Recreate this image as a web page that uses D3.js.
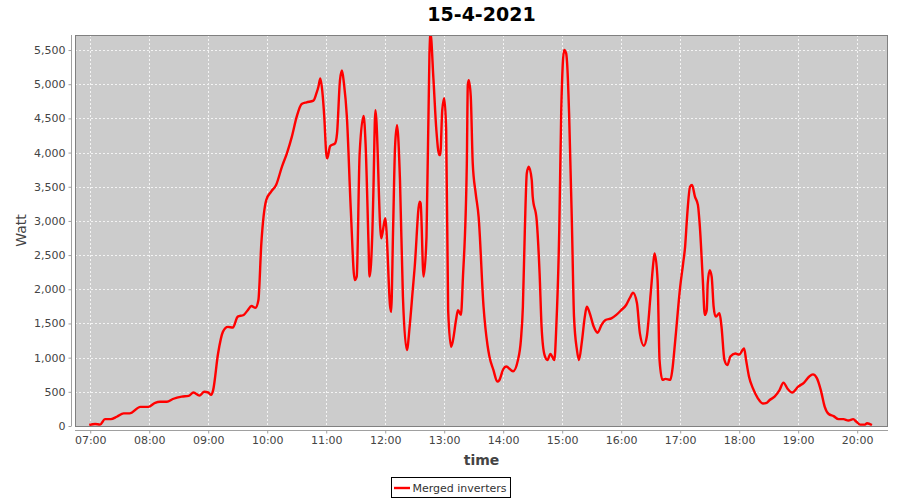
<!DOCTYPE html>
<html>
<head>
<meta charset="utf-8">
<script src="https://cdn.jsdelivr.net/npm/d3@7/dist/d3.min.js"></script>
<style>
  html, body { margin: 0; padding: 0; background: #ffffff; }
  svg { display: block; }
</style>
</head>
<body>
<svg id="chart" width="900" height="500"></svg>
<script>
// ---- data ----
const chartTitle = "15-4-2021";
const seriesName = "Merged inverters";
const times = [
  "06:59","07:05","07:10","07:15","07:21","07:27","07:34","07:40","07:51","07:59",
  "08:06","08:11","08:18","08:24","08:33","08:40","08:45","08:51","08:56","09:00",
  "09:03","09:05","09:10","09:15","09:20","09:25","09:30","09:36","09:40","09:44",
  "09:48","09:51","09:54","09:59","10:04","10:09","10:15","10:20","10:25","10:30",
  "10:35","10:40","10:47","10:50","10:52","10:54","10:56","10:58","11:00","11:01",
  "11:04","11:09","11:11","11:14","11:16","11:18","11:21","11:25","11:29","11:31",
  "11:34","11:38","11:40","11:43","11:44","11:47","11:48","11:50","11:51","11:55",
  "11:56","12:00","12:01","12:05","12:06","12:08","12:10","12:12","12:15","12:18",
  "12:22","12:25","12:28","12:30","12:35","12:36","12:39","12:42","12:45","12:46",
  "12:49","12:52","12:55","12:56","12:58","13:00","13:02","13:04","13:07","13:09",
  "13:12","13:14","13:17","13:19","13:23","13:24","13:25","13:27","13:29","13:32",
  "13:35","13:40","13:44","13:46","13:50","13:54","13:56","14:00","14:03","14:10",
  "14:15","14:18","14:20","14:22","14:24","14:26","14:29","14:30","14:34","14:37",
  "14:39","14:42","14:45","14:48","14:52","14:54","14:57","14:59","15:02","15:04",
  "15:05","15:07","15:10","15:12","15:15","15:17","15:20","15:23","15:25","15:28",
  "15:32","15:36","15:40","15:44","15:50","15:55","16:00","16:05","16:09","16:12",
  "16:16","16:19","16:23","16:26","16:30","16:33","16:34","16:37","16:39","16:42",
  "16:45","16:50","16:52","16:55","17:00","17:03","17:05","17:07","17:10","17:12",
  "17:15","17:18","17:20","17:23","17:25","17:27","17:28","17:30","17:32","17:34",
  "17:36","17:40","17:42","17:45","17:48","17:51","17:56","18:00","18:05","18:07",
  "18:10","18:14","18:19","18:24","18:28","18:31","18:36","18:41","18:45","18:49",
  "18:54","19:00","19:06","19:11","19:15","19:19","19:23","19:27","19:31","19:36",
  "19:41","19:46","19:51","19:56","19:59","20:03","20:08","20:10","20:15"
];
const watts = [
  15,30,20,100,100,135,185,185,280,280,
  340,355,355,395,430,440,490,445,500,490,
  455,525,1060,1380,1450,1440,1600,1625,1690,1755,
  1730,1840,2670,3305,3430,3525,3795,3990,4230,4525,
  4710,4735,4760,4865,4960,5085,4900,4525,3990,3915,
  4095,4135,4280,5060,5200,5015,4525,3160,2135,2185,
  3990,4535,4135,2670,2185,2870,3450,4620,4475,2890,
  2745,3040,2915,1745,1670,2870,4085,4400,3600,1890,
  1110,1480,1990,2330,3280,3260,2185,2770,5450,5750,
  5085,4330,3965,3965,4620,4795,4330,1695,1160,1260,
  1550,1695,1625,2160,3845,4990,5060,4820,3845,3405,
  3060,1745,1185,1015,820,650,670,830,870,800,
  965,1260,1745,2870,3700,3795,3600,3355,3015,2235,
  1455,1040,965,1055,965,1455,2870,4600,5500,5450,
  5305,4575,2870,1600,1110,965,1235,1600,1745,1650,
  1455,1365,1480,1550,1575,1625,1695,1770,1880,1950,
  1800,1355,1175,1305,1940,2430,2525,2135,965,675,
  690,675,820,1260,2040,2380,2625,3060,3500,3525,
  3355,3235,2915,2135,1625,1695,2085,2280,2185,1745,
  1600,1650,1455,965,890,1015,1060,1045,1135,965,
  720,550,405,330,340,380,430,525,635,550,
  490,575,635,720,755,700,525,280,175,145,
  100,100,80,100,65,20,20,40,15
];
const yTickValues = [0,500,1000,1500,2000,2500,3000,3500,4000,4500,5000,5500];
const xTickLabels = ["07:00","08:00","09:00","10:00","11:00","12:00","13:00","14:00","15:00","16:00","17:00","18:00","19:00","20:00"];
const xDomainLabels = ["06:44:30","20:31:20"];
const yMax = 5720;

// ---- helpers ----
const day = "2021-04-15T";
const parseT = d3.timeParse("%Y-%m-%dT%H:%M");
const parseTs = d3.timeParse("%Y-%m-%dT%H:%M:%S");
const data = times.map((t, i) => ({ t: parseT(day + t), v: watts[i] }));

const W = 900, H = 500;
const plot = { left: 75, right: 888, top: 35, bottom: 426 };
const font = "'DejaVu Sans', sans-serif";

const svg = d3.select("#chart");

const x = d3.scaleTime()
  .domain(xDomainLabels.map(s => parseTs(day + s)))
  .range([plot.left, plot.right]);
const y = d3.scaleLinear()
  .domain([0, yMax])
  .range([plot.bottom, plot.top]);

// plot background
svg.append("rect")
  .attr("x", plot.left).attr("y", plot.top)
  .attr("width", plot.right - plot.left).attr("height", plot.bottom - plot.top)
  .attr("fill", "#cccccc");

// grid
const xTicks = xTickLabels.map(s => parseT(day + s));
const grid = svg.append("g").attr("stroke", "#f4f4f4").attr("stroke-width", 1)
  .attr("stroke-dasharray", "2,2");
grid.selectAll("line.v").data(xTicks).join("line")
  .attr("x1", d => Math.round(x(d)) + 0.5).attr("x2", d => Math.round(x(d)) + 0.5)
  .attr("y1", plot.top).attr("y2", plot.bottom);
grid.selectAll("line.h").data(yTickValues.filter(v => v > 0)).join("line")
  .attr("x1", plot.left).attr("x2", plot.right)
  .attr("y1", d => Math.round(y(d)) + 0.5).attr("y2", d => Math.round(y(d)) + 0.5);

// clip
svg.append("clipPath").attr("id", "clip").append("rect")
  .attr("x", plot.left).attr("y", plot.top)
  .attr("width", plot.right - plot.left).attr("height", plot.bottom - plot.top);

// line
const line = d3.line()
  .x(d => x(d.t)).y(d => y(d.v))
  .curve(d3.curveMonotoneX);
svg.append("path")
  .datum(data)
  .attr("clip-path", "url(#clip)")
  .attr("fill", "none")
  .attr("stroke", "#ff0000")
  .attr("stroke-width", 2.4)
  .attr("stroke-linejoin", "round")
  .attr("d", line);

// plot outline
svg.append("rect")
  .attr("x", plot.left + 0.5).attr("y", plot.top + 0.5)
  .attr("width", plot.right - plot.left - 1).attr("height", plot.bottom - plot.top)
  .attr("fill", "none").attr("stroke", "#808080").attr("stroke-width", 1);

// axes
const yAxis = d3.axisLeft(y).tickValues(yTickValues)
  .tickFormat(d3.format(",")).tickSizeInner(3).tickSizeOuter(0).tickPadding(3);
const gy = svg.append("g").attr("transform", `translate(${plot.left - 3.5},0)`).call(yAxis);
gy.select(".domain").attr("stroke", "#a0a0a0").attr("d", `M0,${plot.top}V${plot.bottom}`);
gy.selectAll(".tick line").attr("stroke", "#a0a0a0");
gy.selectAll(".tick text").attr("fill", "#444444").style("font", `11px ${font}`);

const xAxis = d3.axisBottom(x).tickValues(xTicks)
  .tickFormat(d3.timeFormat("%H:%M")).tickSizeInner(3).tickSizeOuter(0).tickPadding(3);
const gx = svg.append("g").attr("transform", `translate(0,${plot.bottom + 4.5})`).call(xAxis);
gx.select(".domain").attr("stroke", "#a0a0a0").attr("d", `M${plot.left},0H${plot.right}`);
gx.selectAll(".tick line").attr("stroke", "#a0a0a0");
gx.selectAll(".tick text").attr("fill", "#444444").style("font", `11px ${font}`);

// title
svg.append("text")
  .attr("x", (plot.left + plot.right) / 2 + 0).attr("y", 21)
  .attr("text-anchor", "middle")
  .style("font", `bold 19px ${font}`).attr("fill", "#000")
  .text(chartTitle);

// axis labels
svg.append("text")
  .attr("x", (plot.left + plot.right) / 2).attr("y", 465)
  .attr("text-anchor", "middle")
  .style("font", `bold 14px ${font}`).attr("fill", "#444444")
  .text("time");
svg.append("text")
  .attr("transform", `translate(26,${(plot.top + plot.bottom) / 2}) rotate(-90)`)
  .attr("text-anchor", "middle")
  .style("font", `14px ${font}`).attr("fill", "#444444")
  .text("Watt");

// legend
const lg = svg.append("g");
const legText = lg.append("text")
  .attr("x", 412.5).attr("y", 492)
  .style("font", `11px ${font}`).attr("fill", "#333")
  .text(seriesName);
const tw = legText.node().getComputedTextLength();
const boxX = 391.5, boxW = (412.5 + tw + 4) - 391.5;
lg.insert("rect", "text")
  .attr("x", boxX).attr("y", 477.5).attr("width", boxW).attr("height", 20)
  .attr("fill", "#fff").attr("stroke", "#000").attr("stroke-width", 1);
lg.append("line")
  .attr("x1", 394).attr("x2", 410).attr("y1", 488).attr("y2", 488)
  .attr("stroke", "#ff0000").attr("stroke-width", 2.4);
</script>
</body>
</html>
